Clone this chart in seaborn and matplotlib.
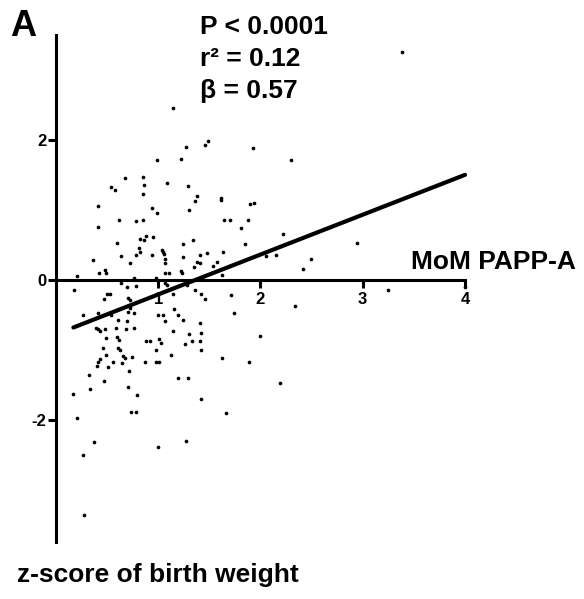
import matplotlib
matplotlib.use("Agg")
import matplotlib.pyplot as plt
import seaborn as sns
import pandas as pd

# MoM PAPP-A (x) and z-score of birth weight (y)
mom_pappa = [
    1.14, 3.38, 2.30,
    0.99, 0.675, 0.85, 0.54, 0.58, 0.86, 0.85,
    1.49, 1.46, 1.27, 1.93, 1.22, 1.09, 1.29, 1.38, 1.61, 1.61,
    0.41, 0.94, 0.99, 1.36, 1.90, 1.94, 1.30,
    0.41, 0.62, 0.78, 0.85, 1.64, 1.70, 1.88, 1.81,
    0.82, 0.86, 0.88, 0.95, 0.60, 0.81, 0.82, 1.24, 1.34, 1.85, 2.22,
    1.04, 1.05, 1.06, 1.07, 1.07,
    0.64, 0.78, 0.94, 1.24, 1.38, 1.41, 1.41, 1.48, 1.63, 1.57, 1.54, 2.05, 2.15,
    0.36, 0.72, 0.42, 0.48, 0.49, 0.21, 1.35, 1.22, 1.23, 1.07, 1.11, 0.98, 0.76, 1.62,
    0.64, 0.69, 0.78, 0.18, 1.07, 1.09, 1.28,
    0.47, 0.50, 0.53, 0.70, 0.72, 1.14, 1.36, 1.42, 1.46, 1.71, 1.74, 2.34,
    0.26, 0.41, 0.54, 0.61, 0.70, 0.69, 0.72, 0.72, 0.76, 1.00, 1.05, 1.07, 1.15, 1.19, 1.24,
    1.41, 1.42, 1.41, 1.42,
    0.39, 0.41, 0.43, 0.48, 0.59, 0.68, 0.76, 1.14, 1.30, 1.33,
    0.49, 0.60, 0.62, 0.88, 0.92, 1.01, 1.03, 0.98, 1.26,
    0.46, 0.61, 0.63, 0.49, 0.43, 0.41, 0.66, 0.67, 0.56, 0.65, 0.51, 0.40, 0.74, 0.87, 0.98, 1.01, 1.12, 1.62, 1.89, 2.00,
    0.32, 0.71, 0.47, 0.33, 0.70, 1.19, 1.29, 0.17, 0.79, 1.42, 2.19,
    0.21, 0.37, 0.26, 0.73, 0.78, 1.00, 1.27, 1.66, 0.27,
    2.94, 2.42, 2.49, 3.25, 4.00,
]
z_birth_weight = [
    2.45, 3.25, 1.71,
    1.71, 1.46, 1.47, 1.33, 1.28, 1.35, 1.23,
    1.99, 1.92, 1.90, 1.88, 1.72, 1.38, 1.34, 1.20, 1.17, 1.14,
    1.05, 1.03, 0.95, 1.12, 1.09, 1.10, 1.00,
    0.75, 0.86, 0.84, 0.86, 0.86, 0.86, 0.86, 0.74,
    0.58, 0.57, 0.63, 0.61, 0.52, 0.46, 0.40, 0.51, 0.57, 0.51, 0.65,
    0.43, 0.39, 0.37, 0.30, 0.24,
    0.34, 0.36, 0.36, 0.33, 0.26, 0.24, 0.35, 0.38, 0.40, 0.25, 0.19, 0.34, 0.36,
    0.28, 0.24, 0.10, 0.14, 0.10, 0.06, 0.18, 0.13, 0.09, 0.09, 0.10, 0.02, 0.03, 0.07,
    -0.04, -0.10, -0.09, -0.14, -0.05, -0.08, -0.07,
    -0.27, -0.21, -0.21, -0.26, -0.29, -0.21, -0.15, -0.20, -0.28, -0.22, -0.47, -0.38,
    -0.50, -0.47, -0.51, -0.57, -0.46, -0.59, -0.37, -0.40, -0.47, -0.50, -0.51, -0.59, -0.42, -0.51, -0.58,
    -0.62, -0.76, -0.87, -1.01,
    -0.69, -0.71, -0.74, -0.71, -0.69, -0.70, -0.69, -0.74, -0.77, -0.87,
    -0.84, -0.82, -0.86, -0.87, -0.87, -0.85, -0.91, -1.00, -0.92,
    -0.97, -0.97, -1.00, -1.08, -1.13, -1.17, -1.09, -1.12, -1.18, -1.19, -1.25, -1.24, -1.10, -1.17, -1.18, -1.18, -1.08, -1.12, -1.18, -0.80,
    -1.36, -1.30, -1.45, -1.56, -1.53, -1.41, -1.41, -1.64, -1.65, -1.70, -1.48,
    -1.98, -2.32, -2.51, -1.89, -1.89, -2.39, -2.30, -1.90, -3.37,
    0.53, 0.16, 0.29, -0.15, -0.10,
]

fit_intercept = -0.78
fit_beta = 0.57
stats_lines = ["P < 0.0001", "r² = 0.12", "β = 0.57"]
x_ticks = [1, 2, 3, 4]
y_ticks = [-2, 0, 2]

sns.set_theme(style="ticks")
plt.rcParams["font.family"] = ["Liberation Sans", "DejaVu Sans"]
plt.rcParams["font.weight"] = "bold"
plt.rcParams["axes.unicode_minus"] = False

df = pd.DataFrame({"x": mom_pappa, "y": z_birth_weight})
xmin, xmax = min(mom_pappa), max(mom_pappa)
fit_df = pd.DataFrame({"x": [xmin, xmax],
                       "y": [fit_intercept + fit_beta * xmin, fit_intercept + fit_beta * xmax]})

fig = plt.figure(figsize=(5.84, 5.99), dpi=100)
ax = fig.add_axes([0.0959, 0.0952, 0.7003, 0.8464])

sns.scatterplot(data=df, x="x", y="y", ax=ax, color="black", s=7,
                linewidth=0, clip_on=False, zorder=3)
sns.lineplot(data=fit_df, x="x", y="y", ax=ax, color="black", linewidth=3.0,
             zorder=4, clip_on=False)

ax.set_xlim(0, 4)
ax.set_ylim(-3.75, 3.5)
ax.spines["top"].set_visible(False)
ax.spines["right"].set_visible(False)
ax.spines["bottom"].set_position(("data", 0))
ax.spines["left"].set_position(("data", 0))
for sp in ("bottom", "left"):
    ax.spines[sp].set_linewidth(2.2)
    ax.spines[sp].set_color("black")

ax.set_xticks(x_ticks)
ax.set_yticks(y_ticks)
ax.set_xticklabels([str(t) for t in x_ticks])
ax.set_yticklabels([str(t) for t in y_ticks])
ax.tick_params(axis="both", direction="out", length=6, width=2.2, color="black",
               labelsize=12, labelcolor="black")
ax.tick_params(axis="x", pad=3)
ax.tick_params(axis="y", pad=1)
for lab in ax.get_xticklabels() + ax.get_yticklabels():
    lab.set_fontweight("bold")

ax.set_xlabel("MoM PAPP-A", fontsize=19, fontweight="bold", color="black")
ax.xaxis.set_label_coords(1.07, 0.552)
ax.xaxis.label.set_va("center")
ax.xaxis.label.set_ha("center")

ax.set_ylabel("z-score of birth weight", fontsize=19, fontweight="bold",
              color="black", rotation=0)
ax.yaxis.set_label_coords(0.25, -0.065)
ax.yaxis.label.set_va("center")
ax.yaxis.label.set_ha("center")

for i, t in enumerate(stats_lines):
    fig.text(200 / 584, 1 - (27 + 32 * i) / 599, t, fontsize=19, fontweight="bold",
             ha="left", va="center", color="black")

fig.text(10 / 584, 1 - 26 / 599, "A", fontsize=26, fontweight="bold",
         ha="left", va="center", color="black")

fig.savefig("out.png", dpi=100, facecolor="white")
